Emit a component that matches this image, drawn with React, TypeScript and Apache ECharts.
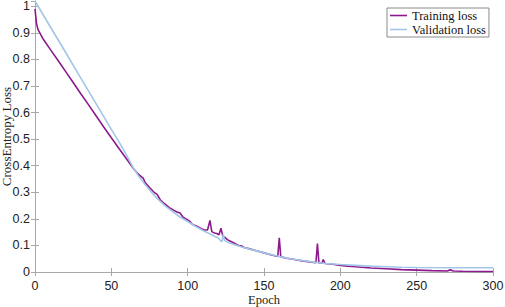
import React, { useEffect, useRef } from "react";
import * as echarts from "echarts";

const xTicks = [0, 50, 100, 150, 200, 250, 300];

const trainingLoss: [number, number][] = [
  [0, 0.99], [1, 0.935], [2, 0.912], [5, 0.88], [10, 0.838], [15, 0.797], [20, 0.755],
  [25, 0.713], [30, 0.671], [35, 0.63], [40, 0.588], [45, 0.546], [50, 0.505],
  [55, 0.465], [60, 0.425], [64, 0.393], [67, 0.372], [69, 0.362], [71, 0.352],
  [72, 0.338], [75, 0.318], [78, 0.3], [80, 0.292], [82, 0.272], [85, 0.256],
  [88, 0.242], [91, 0.232], [93, 0.226], [95, 0.222], [97, 0.206], [100, 0.196],
  [101.5, 0.19], [103, 0.18], [106, 0.172], [109, 0.163], [111, 0.158], [113, 0.158],
  [114.6, 0.194], [115.8, 0.152], [117, 0.148], [119, 0.145], [120.5, 0.14],
  [121.8, 0.165], [123, 0.135], [124.4, 0.13], [126, 0.122], [128, 0.116], [130, 0.11],
  [132, 0.104], [134, 0.098], [135, 0.099], [137, 0.092], [140, 0.088], [145, 0.08],
  [150, 0.072], [155, 0.064], [159, 0.058], [160, 0.129], [161, 0.057], [165, 0.052],
  [170, 0.047], [175, 0.042], [180, 0.038], [184, 0.035], [185, 0.107], [186, 0.034],
  [188, 0.034], [188.8, 0.047], [190, 0.032], [195, 0.029], [200, 0.025], [205, 0.022],
  [210, 0.02], [220, 0.015], [230, 0.012], [240, 0.009], [250, 0.007], [260, 0.005],
  [270, 0.004], [272, 0.008], [274, 0.004], [280, 0.003], [290, 0.002], [300, 0.002],
];

const validationLoss: [number, number][] = [
  [0, 1.02], [10, 0.923], [20, 0.827], [30, 0.73], [40, 0.634], [50, 0.537],
  [55, 0.49], [60, 0.44], [64, 0.396], [68, 0.36], [72, 0.33], [76, 0.302],
  [80, 0.277], [85, 0.25], [90, 0.228], [95, 0.207], [100, 0.19], [105, 0.172],
  [110, 0.156], [115, 0.142], [120, 0.128], [121.5, 0.118], [122.5, 0.114],
  [123.3, 0.142], [124.2, 0.118], [127, 0.11], [130, 0.104], [135, 0.095],
  [140, 0.087], [150, 0.072], [160, 0.058], [170, 0.047], [180, 0.039], [190, 0.032],
  [200, 0.028], [210, 0.025], [220, 0.022], [230, 0.02], [240, 0.018], [250, 0.017],
  [275, 0.016], [300, 0.016],
];

const axisGrey = "#a8a8a8";
const trainColor = "#8c1a8c";
const valColor = "#a3c6e8";

export default function App() {
  const ref = useRef<HTMLDivElement>(null);
  useEffect(() => {
    if (!ref.current) return;
    const chart = echarts.init(ref.current, null, { renderer: "svg" });
    const boxAxis = {
      axisLine: { show: true, lineStyle: { color: axisGrey, width: 1 } },
      axisTick: { show: true, inside: true, length: 4, lineStyle: { color: axisGrey } },
      splitLine: { show: false },
    };
    chart.setOption({
      animation: false,
      backgroundColor: "#ffffff",
      grid: { left: 35, right: 12, top: 1, bottom: 35, containLabel: false, outerBoundsMode: "none" },
      legend: {
        orient: "vertical",
        left: 387,
        top: 8,
        padding: [1, 3, 1, 3],
        itemGap: 1,
        itemWidth: 17,
        itemHeight: 1.6,
        itemTextGap: 1,
        borderColor: "#8a8a8a",
        borderWidth: 1,
        borderRadius: 0,
        backgroundColor: "#ffffff",
        textStyle: { fontFamily: "Liberation Serif", fontSize: 12.5, color: "#111", lineHeight: 12 },
        data: [
          { name: "Training loss", icon: "rect", itemStyle: { color: trainColor } },
          { name: "Validation loss", icon: "rect", itemStyle: { color: valColor } },
        ],
      },
      xAxis: [
        {
          type: "value",
          min: 0,
          max: 300,
          interval: 50,
          name: "Epoch",
          nameLocation: "middle",
          nameGap: 21,
          nameMoveOverlap: false,
          nameTextStyle: { fontFamily: "Liberation Serif", fontSize: 12.5, color: "#222" },
          axisLabel: {
            fontFamily: "Liberation Sans",
            fontSize: 12.5,
            color: "#222",
            margin: 7,
            formatter: (v: number) => (xTicks.includes(v) ? String(v) : ""),
          },
          ...boxAxis,
        },
        {
          type: "value",
          position: "top",
          min: 0,
          max: 300,
          interval: 50,
          axisLabel: { show: false },
          ...boxAxis,
        },
      ],
      yAxis: [
        {
          type: "value",
          min: 0,
          max: 1.02,
          interval: 0.1,
          name: "CrossEntropy Loss",
          nameLocation: "middle",
          nameGap: 22,
          nameMoveOverlap: false,
          nameTextStyle: { fontFamily: "Liberation Serif", fontSize: 13, color: "#222" },
          axisLabel: {
            fontFamily: "Liberation Sans",
            fontSize: 12.5,
            color: "#222",
            margin: 5,
            showMaxLabel: false,
            formatter: (v: number) => String(Math.round(v * 10) / 10),
          },
          ...boxAxis,
        },
        {
          type: "value",
          position: "right",
          min: 0,
          max: 1.02,
          interval: 0.1,
          axisLabel: { show: false },
          ...boxAxis,
        },
      ],
      series: [
        {
          name: "Training loss",
          type: "line",
          data: trainingLoss,
          symbol: "none",
          lineStyle: { color: trainColor, width: 1.6 },
          itemStyle: { color: trainColor },
        },
        {
          name: "Validation loss",
          type: "line",
          data: validationLoss,
          symbol: "none",
          lineStyle: { color: valColor, width: 1.6 },
          itemStyle: { color: valColor },
        },
      ],
    });
    return () => chart.dispose();
  }, []);
  return (
    <div
      ref={ref}
      style={{ position: "fixed", left: 0, top: 0, width: 505, height: 307, background: "#fff" }}
    />
  );
}
